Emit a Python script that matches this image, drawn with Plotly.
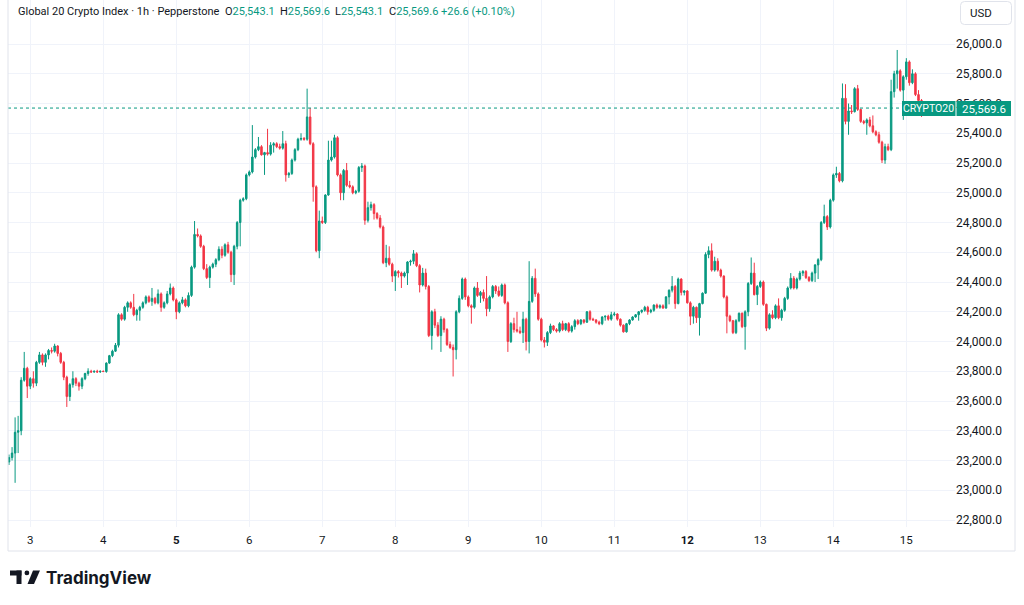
import plotly.graph_objects as go
import pandas as pd

# ---------------- data (1h candles) ----------------
start_time = "2023-09-02 17:00"

open_ = [
    23190, 23220, 23250, 23390, 23400, 23740, 23820,
    23700, 23750, 23720, 23860, 23910, 23860, 23910, 23940, 23935, 23970,
    23920, 23860, 23760, 23630, 23710, 23750, 23720, 23700, 23750, 23785,
    23800, 23795, 23800, 23795, 23800, 23798, 23855, 23905, 23935, 23975,
    24180, 24150, 24230, 24260, 24230, 24180, 24210, 24230, 24260, 24300,
    24270, 24290, 24260, 24320, 24230, 24260, 24320, 24360, 24280, 24200,
    24260, 24280, 24240, 24310, 24500, 24720, 24710, 24640, 24490, 24430,
    24500, 24520, 24550, 24620, 24580, 24650, 24600, 24450, 24640, 24800,
    24950, 24960, 25120, 25140, 25240, 25290, 25310, 25255, 25270, 25260,
    25320, 25330, 25310, 25300, 25330, 25120, 25130, 25220, 25290, 25360,
    25365, 25360, 25510, 25330, 25040, 24610, 24810, 24800, 24985, 25220,
    25240, 25370, 25120, 25000, 25150, 25050, 25040, 25000, 25010, 25170,
    25180, 24815, 24900, 24920, 24860, 24830, 24770, 24530, 24560, 24520,
    24440, 24470, 24460, 24440, 24460, 24535, 24540, 24590, 24510, 24380,
    24460, 24370, 24040, 24200, 24110, 24040, 24150, 24080, 23980, 23960,
    23945, 24200, 24290, 24420, 24300, 24240, 24230, 24360, 24310, 24330,
    24290, 24220, 24300, 24370, 24340, 24310, 24380, 24260, 24000, 24120,
    24080, 24070, 24060, 24150, 24000, 24270, 24425, 24320, 24150, 24010,
    23995, 24060, 24105, 24080, 24070, 24120, 24080, 24120, 24070, 24100,
    24140, 24120, 24145, 24130, 24200, 24150, 24145, 24130, 24120, 24165,
    24170, 24150, 24180, 24185, 24150, 24110, 24065, 24120, 24145, 24165,
    24180, 24200, 24210, 24230, 24200, 24210, 24245, 24230, 24240, 24225,
    24300, 24345, 24370, 24255, 24420, 24330, 24340, 24260, 24170, 24230,
    24160, 24255, 24325, 24585, 24610, 24480, 24540, 24480, 24440, 24300,
    24170, 24140, 24060, 24140, 24190, 24100, 24200, 24390, 24460, 24315,
    24370, 24400, 24250, 24090, 24180, 24160, 24240, 24160, 24210, 24290,
    24360, 24425, 24360, 24420, 24460, 24470, 24430, 24410, 24460, 24515,
    24550, 24800, 24840, 24770, 24950, 25120, 25130, 25080, 25635, 25480,
    25550, 25545, 25700, 25560, 25480, 25470, 25490, 25450, 25410, 25390,
    25340, 25220, 25310, 25290, 25680, 25800, 25820, 25690, 25780, 25880,
    25740, 25800, 25660, 25620, 25543.1,
]

high = [
    23240, 23290, 23490, 23500, 23760, 23930, 23830,
    23760, 23800, 23870, 23930, 23920, 23920, 23950, 23960, 23985, 23975,
    23930, 23870, 23770, 23720, 23800, 23760, 23730, 23760, 23790, 23820,
    23810, 23805, 23810, 23805, 23805, 23860, 23910, 23945, 23990, 24190,
    24190, 24240, 24270, 24270, 24320, 24220, 24240, 24270, 24310, 24310,
    24360, 24300, 24350, 24330, 24270, 24340, 24390, 24370, 24290, 24270,
    24300, 24290, 24330, 24510, 24810, 24760, 24720, 24650, 24520, 24510,
    24530, 24560, 24640, 24640, 24660, 24670, 24610, 24650, 24810, 24960,
    24970, 25130, 25150, 25455, 25300, 25375, 25320, 25275, 25430, 25340,
    25340, 25340, 25330, 25415, 25350, 25140, 25230, 25300, 25370, 25400,
    25375, 25700, 25570, 25340, 25050, 24880, 24840, 24990, 25350, 25350,
    25390, 25380, 25130, 25160, 25200, 25080, 25050, 25020, 25180, 25200,
    25190, 24940, 24940, 24930, 24870, 24850, 24780, 24650, 24640, 24530,
    24480, 24480, 24470, 24470, 24540, 24550, 24615, 24600, 24520, 24495,
    24490, 24380, 24210, 24220, 24130, 24170, 24160, 24090, 24000, 23980,
    24210, 24310, 24430, 24430, 24310, 24250, 24370, 24400, 24340, 24350,
    24440, 24310, 24380, 24380, 24370, 24390, 24390, 24270, 24130, 24160,
    24200, 24100, 24200, 24160, 24540, 24440, 24490, 24330, 24160, 24030,
    24070, 24120, 24110, 24090, 24130, 24140, 24125, 24130, 24110, 24150,
    24150, 24150, 24150, 24205, 24210, 24160, 24150, 24140, 24170, 24175,
    24180, 24200, 24200, 24190, 24155, 24115, 24125, 24150, 24170, 24185,
    24205, 24215, 24240, 24240, 24220, 24250, 24255, 24250, 24250, 24305,
    24350, 24440, 24380, 24430, 24425, 24345, 24345, 24270, 24240, 24235,
    24260, 24330, 24600, 24640, 24660, 24570, 24560, 24490, 24445, 24310,
    24180, 24145, 24150, 24195, 24195, 24210, 24400, 24565, 24530, 24380,
    24410, 24410, 24255, 24190, 24210, 24250, 24290, 24220, 24300, 24370,
    24460, 24440, 24430, 24475, 24480, 24480, 24440, 24470, 24520, 24560,
    24810, 24920, 24850, 24960, 25130, 25175, 25140, 25735, 25730, 25600,
    25590, 25710, 25725, 25565, 25490, 25500, 25510, 25520, 25420, 25410,
    25350, 25330, 25330, 25760, 25820, 25960, 25830, 25790, 25905, 25890,
    25830, 25810, 25690, 25630, 25569.6,
]

low = [
    23170, 23200, 23050, 23250, 23370, 23730, 23620,
    23680, 23690, 23700, 23850, 23840, 23830, 23880, 23920, 23925, 23900,
    23850, 23740, 23560, 23600, 23690, 23700, 23670, 23680, 23740, 23770,
    23790, 23790, 23790, 23790, 23795, 23790, 23850, 23895, 23930, 23960,
    24140, 24140, 24200, 24220, 24170, 24140, 24140, 24220, 24250, 24260,
    24240, 24250, 24250, 24200, 24220, 24250, 24310, 24270, 24150, 24190,
    24250, 24230, 24230, 24300, 24490, 24700, 24630, 24480, 24420, 24360,
    24490, 24500, 24540, 24560, 24570, 24590, 24400, 24380, 24620, 24640,
    24940, 24950, 25110, 25130, 25230, 25280, 25250, 25120, 25250, 25250,
    25270, 25300, 25290, 25290, 25075, 25100, 25120, 25210, 25280, 25350,
    25350, 25350, 25320, 24940, 24600, 24560, 24790, 24790, 24980, 25210,
    25230, 25110, 24950, 24950, 25040, 25030, 24990, 24990, 25000, 25140,
    24785, 24800, 24880, 24820, 24820, 24760, 24520, 24500, 24510, 24400,
    24340, 24430, 24360, 24430, 24380, 24510, 24520, 24500, 24330, 24370,
    24350, 24030, 23945, 24090, 24030, 23930, 24060, 23970, 23950, 23765,
    23880, 24190, 24280, 24280, 24230, 24120, 24220, 24300, 24260, 24270,
    24170, 24200, 24290, 24320, 24300, 24300, 24250, 23930, 23990, 24060,
    24060, 24050, 23990, 23940, 23920, 24260, 24300, 24140, 24000, 23960,
    23970, 24050, 24070, 24060, 24060, 24070, 24070, 24060, 24060, 24080,
    24110, 24110, 24120, 24125, 24140, 24140, 24120, 24110, 24110, 24140,
    24140, 24140, 24170, 24140, 24100, 24060, 24060, 24110, 24140, 24160,
    24140, 24190, 24200, 24180, 24190, 24200, 24220, 24220, 24220, 24220,
    24250, 24330, 24220, 24250, 24310, 24310, 24255, 24110, 24120, 24125,
    24040, 24250, 24320, 24560, 24470, 24470, 24470, 24430, 24290, 24055,
    24130, 24050, 24050, 24130, 24090, 23945, 24170, 24380, 24310, 24245,
    24360, 24240, 24070, 24080, 24150, 24150, 24150, 24140, 24200, 24280,
    24350, 24350, 24350, 24410, 24440, 24420, 24400, 24400, 24400, 24420,
    24540, 24790, 24750, 24760, 24940, 25100, 25070, 25070, 25460, 25390,
    25530, 25540, 25550, 25470, 25460, 25390, 25440, 25400, 25380, 25330,
    25200, 25195, 25280, 25280, 25640, 25700, 25680, 25490, 25760, 25720,
    25730, 25650, 25600, 25510, 25543.1,
]

close = [
    23220, 23250, 23390, 23400, 23740, 23820, 23700,
    23750, 23720, 23860, 23910, 23860, 23910, 23940, 23935, 23970, 23920,
    23860, 23760, 23630, 23710, 23750, 23720, 23700, 23750, 23785, 23800,
    23795, 23800, 23795, 23800, 23798, 23855, 23905, 23935, 23975, 24180,
    24150, 24230, 24260, 24230, 24180, 24210, 24230, 24260, 24300, 24270,
    24290, 24260, 24320, 24230, 24260, 24320, 24360, 24280, 24200, 24260,
    24280, 24240, 24310, 24500, 24720, 24710, 24640, 24490, 24430, 24500,
    24520, 24550, 24620, 24580, 24650, 24600, 24450, 24640, 24800, 24950,
    24960, 25120, 25140, 25240, 25290, 25310, 25255, 25270, 25260, 25320,
    25330, 25310, 25300, 25330, 25120, 25130, 25220, 25290, 25360, 25365,
    25360, 25510, 25330, 25040, 24610, 24810, 24800, 24985, 25220, 25240,
    25370, 25120, 25000, 25150, 25050, 25040, 25000, 25010, 25170, 25180,
    24815, 24900, 24920, 24860, 24830, 24770, 24530, 24560, 24520, 24440,
    24470, 24460, 24440, 24460, 24535, 24540, 24590, 24510, 24380, 24460,
    24370, 24040, 24200, 24110, 24040, 24150, 24080, 23980, 23960, 23945,
    24200, 24290, 24420, 24300, 24240, 24230, 24360, 24310, 24330, 24290,
    24220, 24300, 24370, 24340, 24310, 24380, 24260, 24000, 24120, 24080,
    24070, 24060, 24150, 24000, 24270, 24425, 24320, 24150, 24010, 23995,
    24060, 24105, 24080, 24070, 24120, 24080, 24120, 24070, 24100, 24140,
    24120, 24145, 24130, 24200, 24150, 24145, 24130, 24120, 24165, 24170,
    24150, 24180, 24185, 24150, 24110, 24065, 24120, 24145, 24165, 24180,
    24200, 24210, 24230, 24200, 24210, 24245, 24230, 24240, 24225, 24300,
    24345, 24370, 24255, 24420, 24330, 24340, 24260, 24170, 24230, 24160,
    24255, 24325, 24585, 24610, 24480, 24540, 24480, 24440, 24300, 24170,
    24140, 24060, 24140, 24190, 24100, 24200, 24390, 24460, 24315, 24370,
    24400, 24250, 24090, 24180, 24160, 24240, 24160, 24210, 24290, 24360,
    24425, 24360, 24420, 24460, 24470, 24430, 24410, 24460, 24515, 24550,
    24800, 24840, 24770, 24950, 25120, 25130, 25080, 25635, 25480, 25550,
    25545, 25700, 25560, 25480, 25470, 25490, 25450, 25410, 25390, 25340,
    25220, 25310, 25290, 25680, 25800, 25820, 25690, 25780, 25880, 25740,
    25800, 25660, 25620, 25543.1, 25569.6,
]

day_labels = ["3", "4", "5", "6", "7", "8", "9", "10", "11", "12", "13", "14", "15"]
bold_days = ["5", "12"]
price_ticks = [22800, 23000, 23200, 23400, 23600, 23800, 24000, 24200, 24400,
               24600, 24800, 25000, 25200, 25400, 25600, 25800, 26000]

assert len(open_) == len(high) == len(low) == len(close)

# ---------------- styling ----------------
UP = "#089981"
DOWN = "#F23645"
TXT = "#131722"
GRID = "#F0F3FA"
BORDER = "#E0E3EB"
FONT = "Roboto, 'Open Sans', sans-serif"

W, H = 1024, 605
PL, PR, PT, PB = 8, 955, 0, 527  # plot area in pixels


def X(px):
    return (px - PL) / (PR - PL)


def Y(py):
    return (PB - py) / (PB - PT)


times = pd.date_range(start_time, periods=len(close), freq="h")
day_ticks = pd.date_range("2023-09-03", periods=len(day_labels), freq="D")
tick_text = [f"<b>{d}</b>" if d in bold_days else d for d in day_labels]

fig = go.Figure(
    go.Candlestick(
        x=times, open=open_, high=high, low=low, close=close,
        increasing=dict(line=dict(color=UP, width=1), fillcolor=UP),
        decreasing=dict(line=dict(color=DOWN, width=1), fillcolor=DOWN),
        whiskerwidth=0, hoverinfo="skip", showlegend=False,
    )
)

fig.update_layout(
    width=W, height=H,
    margin=dict(l=PL, r=W - PR, t=PT, b=H - PB),
    paper_bgcolor="white", plot_bgcolor="white",
    font=dict(family=FONT, color=TXT, size=12),
    xaxis=dict(
        range=[pd.Timestamp("2023-09-02 16:40"), pd.Timestamp("2023-09-15 16:00")],
        tickvals=day_ticks, ticktext=tick_text,
        showgrid=True, gridcolor=GRID, gridwidth=1,
        zeroline=False, showline=False, ticks="",
        ticklabelstandoff=4,
        rangeslider=dict(visible=False),
        tickfont=dict(size=11.5, color=TXT),
    ),
    yaxis=dict(
        side="right", range=[22753, 26296],
        tickvals=price_ticks, tickformat=",.1f",
        showgrid=True, gridcolor=GRID, gridwidth=1,
        zeroline=False, showline=False, ticks="",
        ticklabelstandoff=0,
        tickfont=dict(size=12, color=TXT),
    ),
)

last = close[-1]
shapes = [
    dict(type="line", xref="paper", x0=0, x1=1, yref="y", y0=last, y1=last,
         line=dict(color=UP, width=1, dash="dot")),
    dict(type="line", xref="paper", yref="paper", x0=X(8), x1=X(8), y0=Y(0), y1=Y(551),
         line=dict(color=BORDER, width=1)),
    dict(type="line", xref="paper", yref="paper", x0=X(8), x1=X(1015), y0=Y(551), y1=Y(551),
         line=dict(color=BORDER, width=1)),
    dict(type="line", xref="paper", yref="paper", x0=X(1015), x1=X(1015), y0=Y(0), y1=Y(551),
         line=dict(color=BORDER, width=1)),
    dict(type="rect", xref="paper", yref="paper", x0=X(902), x1=X(955.5), y0=Y(116), y1=Y(101),
         fillcolor=UP, line=dict(width=0), layer="above"),
    dict(type="rect", xref="paper", yref="paper", x0=X(956.5), x1=X(1011), y0=Y(116), y1=Y(101),
         fillcolor=UP, line=dict(width=0), layer="above"),
]

x0, x1, y0, y1, r = 960.5, 1011.5, 1.5, 24.5, 4
path = (f"M {X(x0 + r)},{Y(y0)} L {X(x1 - r)},{Y(y0)} Q {X(x1)},{Y(y0)} {X(x1)},{Y(y0 + r)} "
        f"L {X(x1)},{Y(y1 - r)} Q {X(x1)},{Y(y1)} {X(x1 - r)},{Y(y1)} "
        f"L {X(x0 + r)},{Y(y1)} Q {X(x0)},{Y(y1)} {X(x0)},{Y(y1 - r)} "
        f"L {X(x0)},{Y(y0 + r)} Q {X(x0)},{Y(y0)} {X(x0 + r)},{Y(y0)} Z")
shapes.append(dict(type="path", xref="paper", yref="paper", path=path,
                   fillcolor="white", line=dict(color=BORDER, width=1), layer="above"))

shapes += [
    dict(type="rect", xref="paper", yref="paper", x0=X(10), x1=X(21.5), y0=Y(575.5), y1=Y(570.5),
         fillcolor=TXT, line=dict(width=0), layer="above"),
    dict(type="rect", xref="paper", yref="paper", x0=X(16.5), x1=X(21.5), y0=Y(584), y1=Y(570.5),
         fillcolor=TXT, line=dict(width=0), layer="above"),
    dict(type="circle", xref="paper", yref="paper", x0=X(24.5), x1=X(29.3), y0=Y(575.3), y1=Y(570.5),
         fillcolor=TXT, line=dict(width=0), layer="above"),
    dict(type="path", xref="paper", yref="paper",
         path=f"M {X(33)},{Y(570.5)} L {X(40)},{Y(570.5)} L {X(34)},{Y(584)} L {X(27.5)},{Y(584)} Z",
         fillcolor=TXT, line=dict(width=0), layer="above"),
]
fig.update_layout(shapes=shapes)

g = f"color:{UP}"
ann = [
    dict(px=16, text="Global 20 Crypto Index · 1h · Pepperstone"),
    dict(px=222.5, text=f"O<span style='{g}'>25,543.1</span>"),
    dict(px=277.5, text=f"H<span style='{g}'>25,569.6</span>"),
    dict(px=332.5, text=f"L<span style='{g}'>25,543.1</span>"),
    dict(px=386.5, text=f"C<span style='{g}'>25,569.6</span>"),
    dict(px=438.5, text=f"<span style='{g}'>+26.6 (+0.10%)</span>"),
]
annotations = [
    dict(xref="paper", yref="paper", x=X(a["px"]), y=Y(11.5), xanchor="left", yanchor="middle",
         text=a["text"], showarrow=False, font=dict(size=11, color=TXT, family=FONT))
    for a in ann
]
annotations += [
    dict(xref="paper", yref="paper", x=X(928.7), y=Y(108.5), xanchor="center", yanchor="middle",
         text="CRYPTO20", showarrow=False, font=dict(size=10.5, color="white", family=FONT)),
    dict(xref="paper", yref="paper", x=X(983.8), y=Y(108.5), xanchor="center", yanchor="middle",
         text=f"{last:,.1f}", showarrow=False, font=dict(size=11.5, color="white", family=FONT)),
    dict(xref="paper", yref="paper", x=X(968), y=Y(13), xanchor="left", yanchor="middle",
         text="USD", showarrow=False, font=dict(size=11.5, color=TXT, family=FONT)),
    dict(xref="paper", yref="paper", x=X(44), y=Y(578), xanchor="left", yanchor="middle",
         text="<b>TradingView</b>", showarrow=False,
         font=dict(size=17, color=TXT, family="Inter, Roboto, sans-serif")),
]
fig.update_layout(annotations=annotations)

fig.write_html("out.html", config={"displayModeBar": False},
               post_script="document.body.style.margin='0px';")
